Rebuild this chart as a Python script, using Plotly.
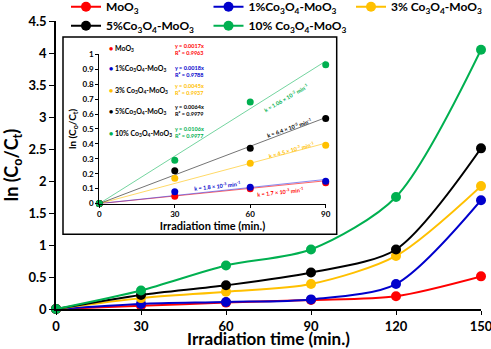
import plotly.graph_objects as go

# ---------------- data ----------------
time_main = [0, 30, 60, 90, 120, 150]
time_inset = [0, 30, 60, 90]
series_names = [
    "MoO<sub>3</sub>",
    "1%Co<sub>3</sub>O<sub>4</sub>-MoO<sub>3</sub>",
    "3% Co<sub>3</sub>O<sub>4</sub>-MoO<sub>3</sub>",
    "5%Co<sub>3</sub>O<sub>4</sub>-MoO<sub>3</sub>",
    "10% Co<sub>3</sub>O<sub>4</sub>-MoO<sub>3</sub>",
]
moo3 = [0, 0.05, 0.10, 0.14, 0.20, 0.51]
co1 = [0, 0.08, 0.11, 0.15, 0.39, 1.70]
co3 = [0, 0.17, 0.27, 0.39, 0.83, 1.92]
co5 = [0, 0.22, 0.37, 0.57, 0.93, 2.51]
co10 = [0, 0.29, 0.68, 0.93, 1.75, 4.05]
fit_slopes = [0.0017, 0.0018, 0.0045, 0.0064, 0.0106]
fit_r2 = [0.9963, 0.9788, 0.9937, 0.9979, 0.9977]
k_labels = [
    "k = 1.7 × 10<sup>-3</sup> min<sup>-1</sup>",
    "k = 1.8 × 10<sup>-3</sup> min<sup>-1</sup>",
    "k = 4.5 × 10<sup>-3</sup> min<sup>-1</sup>",
    "k = 6.4 × 10<sup>-3</sup> min<sup>-1</sup>",
    "k = 1.06 × 10<sup>-2</sup> min<sup>-1</sup>",
]
inset_names = [
    "MoO<sub>3</sub>",
    "1%Co<sub>3</sub>O<sub>4</sub>-MoO<sub>3</sub>",
    "3% Co<sub>3</sub>O<sub>4</sub>-MoO<sub>3</sub>",
    "5%Co<sub>3</sub>O<sub>4</sub>-MoO<sub>3</sub>",
    "10% Co<sub>3</sub>O<sub>4</sub>-MoO<sub>3</sub>",
]
x_ticks_main = [0, 30, 60, 90, 120, 150]
x_ticks_inset = [0, 30, 60, 90]

# ---------------- style ----------------
colors = ["#FF0000", "#0000CC", "#FFC000", "#000000", "#00B050"]
fit_colors = ["rgba(255,0,0,0.6)", "rgba(60,60,230,0.6)", "rgba(255,192,0,0.6)",
              "rgba(0,0,0,0.55)", "rgba(0,176,80,0.55)"]
FONT = "Lato"
W, H = 491, 349
L, R, T, B = 56, 10, 20.7, 40.3
PW, PH = W - L - R, H - T - B


def px(xp, yp):
    return (xp - L) / PW, (H - B - yp) / PH


series = [moo3, co1, co3, co5, co10]

fig = go.Figure()
for name, vals, c in zip(series_names, series, colors):
    fig.add_trace(go.Scatter(
        x=time_main, y=vals, name=name, mode="lines+markers",
        line=dict(color=c, width=2, shape="spline", smoothing=0.8),
        marker=dict(color=c, size=10), cliponaxis=False,
        xaxis="x", yaxis="y"))

# inset fits
for k, c in zip(fit_slopes, fit_colors):
    xs = [time_inset[0], time_inset[-1]]
    fig.add_trace(go.Scatter(
        x=xs, y=[k * v for v in xs], mode="lines", showlegend=False,
        line=dict(color=c, width=1), xaxis="x2", yaxis="y2", hoverinfo="skip"))
# inset points
for vals, c in zip(series, colors):
    fig.add_trace(go.Scatter(
        x=time_inset, y=vals[:len(time_inset)], mode="markers", showlegend=False,
        marker=dict(color=c, size=7), cliponaxis=False, xaxis="x2", yaxis="y2"))

ix0, iy1 = px(99.3, 54)
ix1, iy0 = px(325.7, 203.3)
lgx, lgy = px(66, -8)

fig.update_layout(
    width=W, height=H, margin=dict(l=L, r=R, t=T, b=B, autoexpand=False),
    plot_bgcolor="white", paper_bgcolor="white",
    font=dict(family=FONT, color="black"),
    xaxis=dict(range=[0, 150], tickvals=x_ticks_main, showline=True, linewidth=2,
               linecolor="black", ticks="outside", ticklen=4, tickcolor="black",
               showgrid=False, zeroline=False, automargin=False,
               ticklabeloverflow="allow",
               tickfont=dict(size=13, weight=700),
               title=dict(text="Irradiation time (min.)", standoff=4,
                          font=dict(size=17, weight=700))),
    yaxis=dict(range=[0, 4.5], dtick=0.5, showline=True, linewidth=1.5,
               linecolor="black", ticks="outside", ticklen=5, tickcolor="black",
               showgrid=False, zeroline=False, automargin=False,
               ticklabeloverflow="allow",
               tickfont=dict(size=13, weight=700),
               title=dict(text="ln (C<sub>o</sub>/C<sub>t</sub>)", standoff=8,
                          font=dict(size=18, weight=700))),
    xaxis2=dict(domain=[ix0, ix1], anchor="y2", range=[0, 90], tickvals=x_ticks_inset,
                showline=True, linewidth=1, linecolor="black", ticks="outside",
                ticklen=3, tickcolor="black", showgrid=False, zeroline=False,
                automargin=False, tickfont=dict(size=8, weight=700),
                title=dict(text="Irradiation time (min.)", standoff=2,
                           font=dict(size=11, weight=700))),
    yaxis2=dict(domain=[iy0, iy1], anchor="x2", range=[0, 1], dtick=0.1,
                showline=True, linewidth=1, linecolor="black", ticks="outside",
                ticklen=3, tickcolor="black", showgrid=False, zeroline=False,
                automargin=False, tickfont=dict(size=8, weight=700),
                title=dict(text="ln (C<sub>o</sub>/C<sub>t</sub>)", standoff=4,
                           font=dict(size=10, weight=700))),
    legend=dict(orientation="h", x=lgx, y=lgy, xanchor="left", yanchor="top",
                entrywidth=97.5, entrywidthmode="pixels", itemwidth=30,
                font=dict(size=12, weight=700), bgcolor="rgba(0,0,0,0)",
                tracegroupgap=0, traceorder="normal"),
    showlegend=True,
)

# inset box
bx0, by1 = px(63, 36.7)
bx1, by0 = px(336.7, 234)
fig.add_shape(type="rect", xref="paper", yref="paper", x0=bx0, x1=bx1, y0=by0, y1=by1,
              line=dict(color="black", width=1.5), fillcolor="white", layer="below")

# inset legend text + equations
leg_y = [47.7, 68.3, 90, 110.7, 132.7]
eq_y = [48.8, 70.8, 89.5, 110.5, 132.5]
for name, c, ly, ey, k, r2 in zip(inset_names, colors, leg_y, eq_y, fit_slopes, fit_r2):
    ax, ay = px(107, ly)
    fig.add_annotation(xref="paper", yref="paper", x=ax, y=ay, xanchor="left",
                       yanchor="middle", showarrow=False,
                       text=f"<span style='color:{c}'>●</span> {name}",
                       font=dict(size=7, weight=700, color="black"))
    ex, eyy = px(173, ey)
    fig.add_annotation(xref="paper", yref="paper", x=ex, y=eyy, xanchor="left",
                       yanchor="middle", showarrow=False, align="left",
                       text=f"y = {k:.4f}x<br>R² = {r2:.4f}",
                       font=dict(size=5.5, weight=700, color=c))

# k labels (rotated)
k_pos = [(280, 191.3, -6), (217.5, 184.7, -6), (291, 149, -15), (289, 127.5, -19), (286, 79, -30)]
for lab, c, (kx, ky, ang) in zip(k_labels, colors, k_pos):
    x_, y_ = px(kx, ky)
    fig.add_annotation(xref="paper", yref="paper", x=x_, y=y_, showarrow=False,
                       text=lab, textangle=ang,
                       font=dict(size=5.5, weight=700, color=c))

fig.write_html("out.html", config={"displayModeBar": False},
               post_script="document.body.style.margin='0';")
